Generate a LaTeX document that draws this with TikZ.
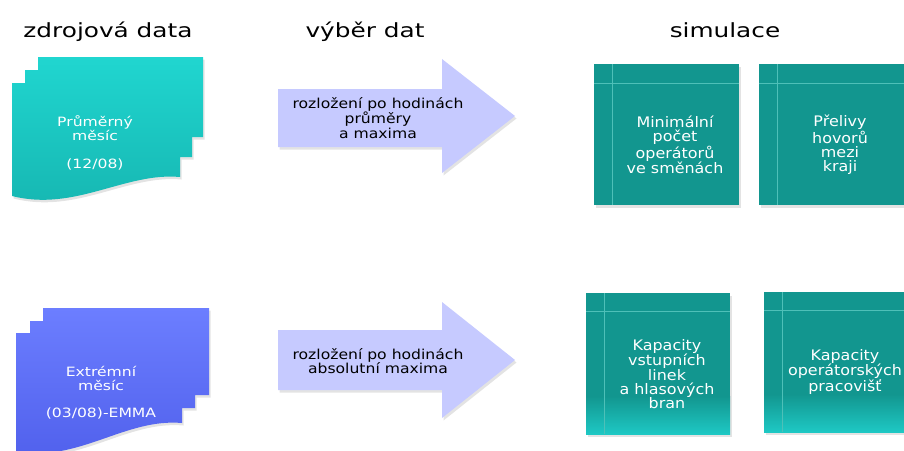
\documentclass[tikz,border=0pt]{standalone}
\usepackage{fontspec}
\setmainfont{DejaVu Sans}[FakeStretch=1.22]
\newfontfamily\headfont{DejaVu Sans}[FakeStretch=1.27]
\newfontfamily\arrowfont{DejaVu Sans}[FakeStretch=1.14]
\newfontfamily\boxfont{DejaVu Sans}[FakeStretch=1.1]
\usetikzlibrary{shadows}

\definecolor{docCyanTop}{RGB}{32,214,208}
\definecolor{docCyanBot}{RGB}{22,182,177}
\definecolor{docBlueTop}{RGB}{108,126,255}
\definecolor{docBlueBot}{RGB}{80,96,236}
\definecolor{arrowFill}{RGB}{198,202,255}
\definecolor{tealBox}{RGB}{18,150,143}
\definecolor{tealLight}{RGB}{30,200,196}
\definecolor{tealLine}{RGB}{78,192,184}

\tikzset{
  heading/.style={font=\headfont\fontsize{19.5}{24}\selectfont, text=black, anchor=base, inner sep=0pt},
  doctext/.style={font=\fontsize{12.8}{13.8}\selectfont, align=center, inner sep=0pt, text=white},
  arrowtext/.style={font=\arrowfont\fontsize{13.7}{14.4}\selectfont, align=center, inner sep=0pt, text=black},
  boxtext/.style={font=\boxfont\fontsize{14.5}{14.3}\selectfont, align=center, inner sep=0pt, text=white},
  softshadow/.style={drop shadow={opacity=0.22, shadow xshift=1.5pt, shadow yshift=-2.5pt}},
  bigarrow/.style={fill=arrowFill, softshadow},
  simbox/.style={fill=tealBox, softshadow},
  bevel/.style={draw=tealLine, line width=0.7pt},
}

\begin{document}
\begin{tikzpicture}[x=1pt, y=-1pt]
\useasboundingbox (0,0) rectangle (904,450);

% column headings
\node[heading] (hSource) at (108,37) {zdrojová data};
\node[heading] (hSelect) at (365,37) {výběr dat};
\node[heading] (hSim)    at (725,37) {simulace};

% stacked documents, top row
\shade[top color=docCyanTop, bottom color=docCyanBot, softshadow]
  (12,83) -- (25,83) -- (25,70) -- (38,70) -- (38,57) -- (203,57)
  -- (203,137) -- (192,137) -- (192,157) -- (180,157) -- (180,177)
  .. controls (125,172) and (75,212) .. (12,196) -- cycle;
\node[doctext] (docAvg) at (95,143) {Průměrný\\měsíc\\[15pt](12/08)};

% stacked documents, bottom row
\shade[top color=docBlueTop, bottom color=docBlueBot, softshadow]
  (16,333) -- (30,333) -- (30,321) -- (43,321) -- (43,308) -- (209,308)
  -- (209,395) -- (195,395) -- (195,408) -- (182,408) -- (182,423)
  .. controls (125,418) and (80,462) .. (16,452) -- cycle;
\node[doctext] (docExt) at (101,393) {Extrémní\\měsíc\\[13pt](03/08)-EMMA};

% selection arrows
\path[bigarrow] (278,89) -- (442,89) -- (442,59) -- (515,116)
  -- (442,173) -- (442,147) -- (278,147) -- cycle;
\node[arrowtext] (selAvg) at (378,118) {rozložení po hodinách\\průměry\\a maxima};

\path[bigarrow] (278,330) -- (442,330) -- (442,302) -- (515,360)
  -- (442,418) -- (442,390) -- (278,390) -- cycle;
\node[arrowtext] (selExt) at (378,361) {rozložení po hodinách\\absolutní maxima};

% simulation boxes, top row
\path[simbox] (594,64) rectangle (739,205);
\draw[bevel] (612,64) -- (612,205) (594,83) -- (739,83);
\node[boxtext] (simOps) at (675,145) {Minimální\\počet\\operátorů\\ve směnách};

\path[simbox] (759,64) rectangle (904,205);
\draw[bevel] (777,64) -- (777,205) (759,83) -- (904,83);
\node[boxtext] (simOverflow) at (840,145) {Přelivy\\hovorů\\mezi\\kraji};

% simulation boxes, bottom row
\path[simbox] (586,293) rectangle (730,434);
\shade[top color=tealBox, bottom color=tealLight] (586,396) rectangle (730,434);
\draw[bevel] (604,293) -- (604,434) (586,311) -- (730,311);
\node[boxtext] (simLines) at (667,374) {Kapacity\\vstupních\\linek\\a hlasových\\bran};

\path[simbox] (764,292) rectangle (905,432);
\shade[top color=tealBox, bottom color=tealLight] (764,394) rectangle (905,432);
\draw[bevel] (782,292) -- (782,432) (764,310) -- (905,310);
\node[boxtext] (simDesks) at (845,372) {Kapacity\\operátorských\\pracovišť};
\end{tikzpicture}
\end{document}
